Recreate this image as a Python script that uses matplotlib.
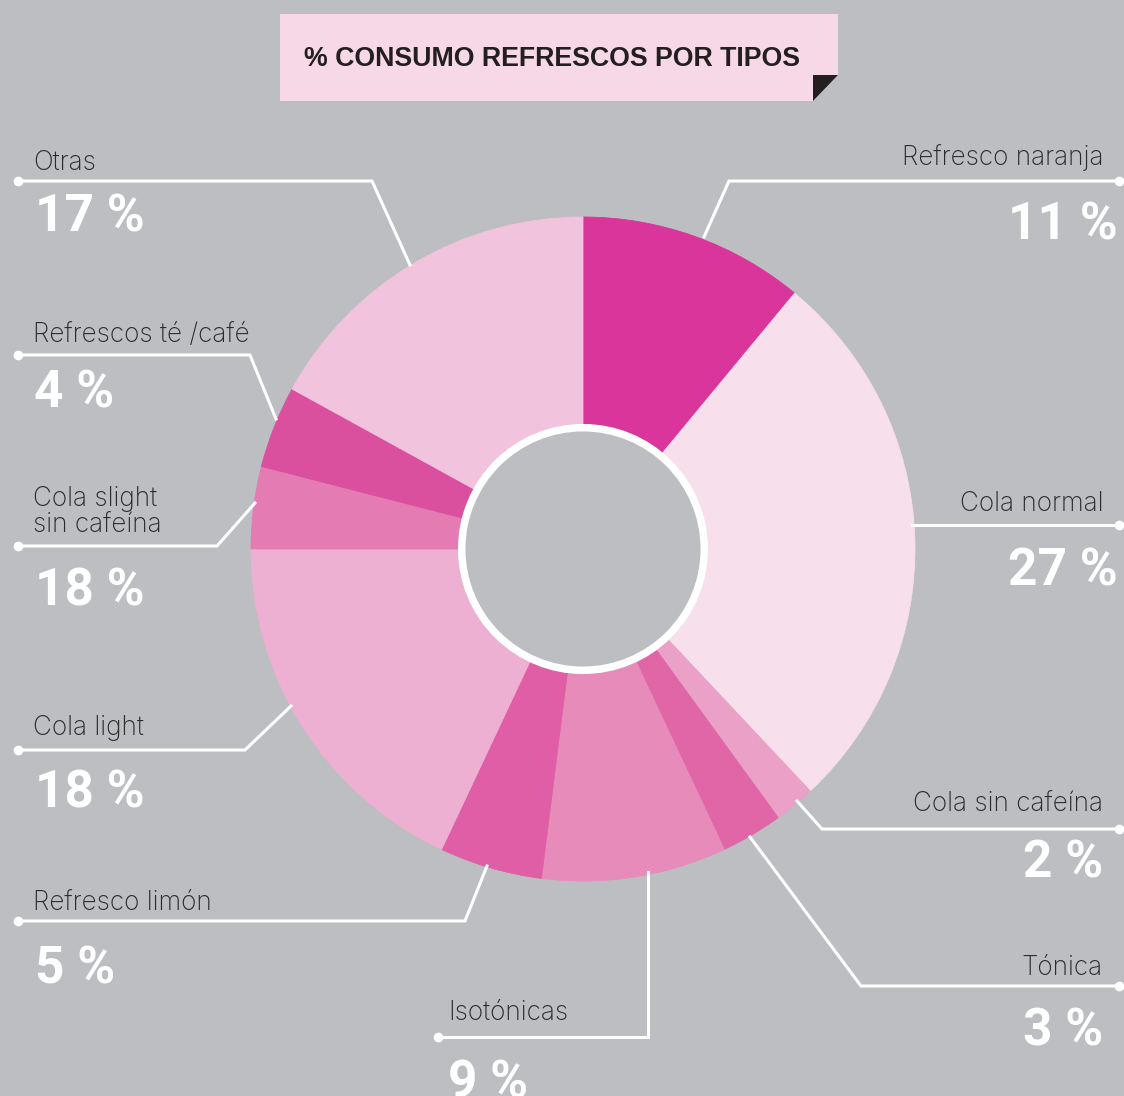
import matplotlib.pyplot as plt
from matplotlib.patches import Circle, Polygon

# consumo de refrescos por tipo (%)
tipos = ['Refresco naranja', 'Cola normal', 'Cola sin cafeína', 'Tónica',
         'Isotónicas', 'Refresco limón', 'Cola light', 'Cola slight\nsin cafeína',
         'Refrescos té /café', 'Otras']
cuota = [11, 27, 2, 3, 9, 5, 18, 4, 4, 17]
etiquetas_pct = ['11 %', '27 %', '2 %', '3 %', '9 %', '5 %', '18 %', '18 %', '4 %', '17 %']
colores = ['#D9359A', '#F7DFEB', '#EBA0C7', '#E066A8', '#E78BBB',
           '#DF5EA5', '#EDB0D2', '#E47BB2', '#DB4F9F', '#F1C3DD']

W, H = 1124, 1096
FONDO = '#BDBEC1'

# colocacion de textos y lineas guia (pixeles, y hacia abajo)
# (ha, x texto, y nombre, y porcentaje, x porcentaje, puntos de la linea)
layout = [
    ('right', 1103, 165, 240, 1118, [(704, 237), (729, 181), (1119, 181)]),
    ('right', 1103, 511, 585, 1118, [(912, 525), (1119, 525)]),
    ('right', 1103, 811, 878, 1103, [(797, 801), (822, 829), (1119, 829)]),
    ('right', 1103, 975, 1045, 1103, [(750, 837), (861, 986), (1119, 986)]),
    ('left', 448, 1020, 1098, 448, [(648, 872), (648, 1037), (438, 1037)]),
    ('left', 33, 910, 983, 35, [(487, 866), (465, 921), (18, 921)]),
    ('left', 33, 735, 808, 35, [(291, 706), (245, 750), (18, 750)]),
    ('left', 33, 532, 605, 35, [(255, 503), (217, 546), (18, 546)]),
    ('left', 33, 342, 407, 34, [(276, 419), (250, 355), (18, 355)]),
    ('left', 33, 170, 232, 35, [(410, 265), (372, 181), (18, 181)]),
]


def yy(y):
    return H - y


fig = plt.figure(figsize=(W / 100, H / 100), dpi=100)
fig.patch.set_facecolor(FONDO)
ax = fig.add_axes([0, 0, 1, 1])
ax.set_facecolor(FONDO)

cx, cy = 583, yy(549)
wedges, _ = ax.pie(cuota, colors=colores, startangle=90, counterclock=False,
                   radius=332, center=(cx, cy), wedgeprops=dict(width=207))
for w in wedges:
    w.set_edgecolor(w.get_facecolor())
    w.set_linewidth(0.6)

# aro blanco del hueco central
ax.add_patch(Circle((cx, cy), 121.3, fill=False, edgecolor='white', lw=5.4, zorder=3))

for nombre, pct, (ha, tx, ny, py, px, pts) in zip(tipos, etiquetas_pct, layout):
    xs = [p[0] for p in pts]
    ys = [yy(p[1]) for p in pts]
    ax.plot(xs, ys, color='white', lw=2.2, solid_joinstyle='miter', zorder=4)
    ax.plot(xs[-1], ys[-1], 'o', color='white', ms=6, zorder=4)
    ax.text(tx, yy(ny), nombre, ha=ha, va='baseline', fontsize=18.8,
            family='Inter', fontweight='light', color='#2B2B2B',
            linespacing=1.0, multialignment='left')
    ax.text(px, yy(py), pct, ha=ha, va='baseline', fontsize=37,
            family='Roboto', fontweight='bold', color='white')

# cabecera con esquina doblada
ax.add_patch(Polygon([(280, yy(14)), (838, yy(14)), (838, yy(75)), (813, yy(101)),
                      (280, yy(101))], closed=True, facecolor='#F7D8E7',
                     edgecolor='none', zorder=5))
ax.add_patch(Polygon([(813, yy(75)), (838, yy(75)), (813, yy(101))], closed=True,
                     facecolor='#231F20', edgecolor='none', zorder=5))
ax.text(304, yy(66), '% CONSUMO REFRESCOS POR TIPOS', ha='left', va='baseline',
        fontsize=19.3, family='Liberation Sans', fontweight='bold', color='#231F20',
        zorder=6)

ax.set_xlim(0, W)
ax.set_ylim(0, H)
ax.set_aspect('auto')
ax.axis('off')

fig.savefig('out.png', dpi=100, facecolor=FONDO)
